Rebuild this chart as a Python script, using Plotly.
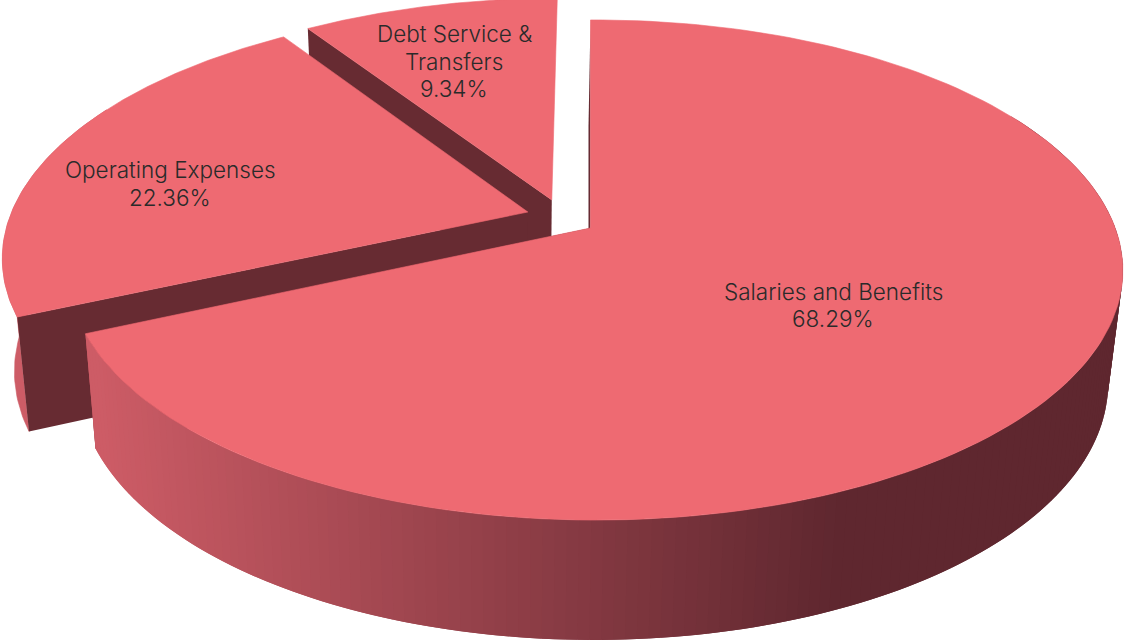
import math
import plotly.graph_objects as go

# Budget shares, drawn clockwise from twelve o'clock
categories = ["Salaries and Benefits", "Operating Expenses", "Debt Service &<br>Transfers"]
shares = [68.29, 22.36, 9.34]

# How far each slice is pulled out of the disc, in units of its radius
explode = [(0.0, 0.0), (-0.122, 0.0666), (-0.076, 0.118)]
slice_radius = [1.0, 1.015, 1.008]
label_anchors = [(833, 305), (170, 183.5), (454, 61)]

TOP_COLOR = "#EE6A72"
CUT_COLOR = "#672B32"
WALL_LIGHT = (205, 92, 102)
WALL_DARK = (95, 39, 47)
TEXT_COLOR = "#2A2A2A"
LINE_GAP = 27.5

# Perspective model of the tilted disc
CX, CY = 590.5, 228
RX, RY = 520, 243
TILT, SKEW = 0.168, 0.009
DEPTH, BOTTOM_SX, BOTTOM_SY, BOTTOM_DX = 112, 0.976, 1.027, -2


def project(theta, r=1.0, bottom=False, offset=(0.0, 0.0)):
    u, v = r * math.sin(theta) + offset[0], r * math.cos(theta) + offset[1]
    w = 1 + TILT * v - SKEW * u
    x, y = RX * u / w, -RY * v / w
    if bottom:
        x, y = x * BOTTOM_SX + BOTTOM_DX, y * BOTTOM_SY + DEPTH
    return CX + x, CY + y


def arc(a0, a1, r=1.0, bottom=False, offset=(0.0, 0.0), n=160):
    return [project(a0 + (a1 - a0) * i / n, r, bottom, offset) for i in range(n + 1)]


def poly(fig, pts, color, edge=0.6):
    xs, ys = zip(*pts)
    fig.add_trace(go.Scatter(
        x=list(xs) + [xs[0]], y=list(ys) + [ys[0]], mode="lines", fill="toself",
        fillcolor=color, line=dict(color=color, width=edge), hoverinfo="skip",
    ))


def wall_color(x):
    t = min(1.0, max(0.0, (x - 95) / (840 - 95)))
    return "rgb({},{},{})".format(*[round(a + (b - a) * t) for a, b in zip(WALL_LIGHT, WALL_DARK)])


total = sum(shares)
bounds = [0.0]
for s in shares:
    bounds.append(bounds[-1] + s / total * 2 * math.pi)

fig = go.Figure()

# Farthest slices first so nearer ones cover them
for idx in (2, 1, 0):
    a0, a1 = bounds[idx], bounds[idx + 1]
    off, r = explode[idx], slice_radius[idx]
    apex_t = project(0, 0, False, off)
    apex_b = project(0, 0, True, off)

    if idx == 1:
        # Sliver of outer rim left of the cut face
        rim = arc(a0, a0 + 0.9, r, False, off, 60) + arc(a0 + 0.9, a0, r, True, off, 60)
        poly(fig, rim, "rgb({},{},{})".format(*WALL_LIGHT))

    # Radial cut faces that remain visible
    poly(fig, [apex_t, project(a0, r, False, off), project(a0, r, True, off), apex_b], CUT_COLOR, 0)
    if idx == 0:
        poly(fig, [apex_t, project(a1, r, False, off), project(a1, r, True, off), apex_b], CUT_COLOR, 0)

        # Outer rim, shaded in narrow overlapping strips painted right to left
        n = 220
        step = (a1 - a0) / n
        for i in range(n):
            t0 = a0 + step * i
            t1 = min(a1, t0 + 2 * step)
            if math.cos(t0 + step / 2) > 0.5:
                continue
            p = [project(t0, r, False, off), project(t1, r, False, off),
                 project(t1, r, True, off), project(t0, r, True, off)]
            poly(fig, p, wall_color(project(t0 + step / 2, r, False, off)[0]), 0)

    # Top face
    poly(fig, [apex_t] + arc(a0, a1, r, False, off), TOP_COLOR)

# Each label is centred on its anchor, one annotation per line
for name, share, (lx, ly) in zip(categories, shares, label_anchors):
    lines = name.split("<br>") + [f"{share:.2f}%"]
    for k, line in enumerate(lines):
        fig.add_annotation(x=lx, y=ly + (k - (len(lines) - 1) / 2) * LINE_GAP, text=line, showarrow=False,
                           font=dict(family="Inter", size=22.5, color=TEXT_COLOR, weight=300))

fig.update_layout(
    width=1125, height=642, margin=dict(l=0, r=0, t=0, b=0), showlegend=False,
    paper_bgcolor="white", plot_bgcolor="white",
    xaxis=dict(range=[0, 1125], visible=False, fixedrange=True),
    yaxis=dict(range=[642, 0], visible=False, fixedrange=True),
)
fig.write_html("out.html")
